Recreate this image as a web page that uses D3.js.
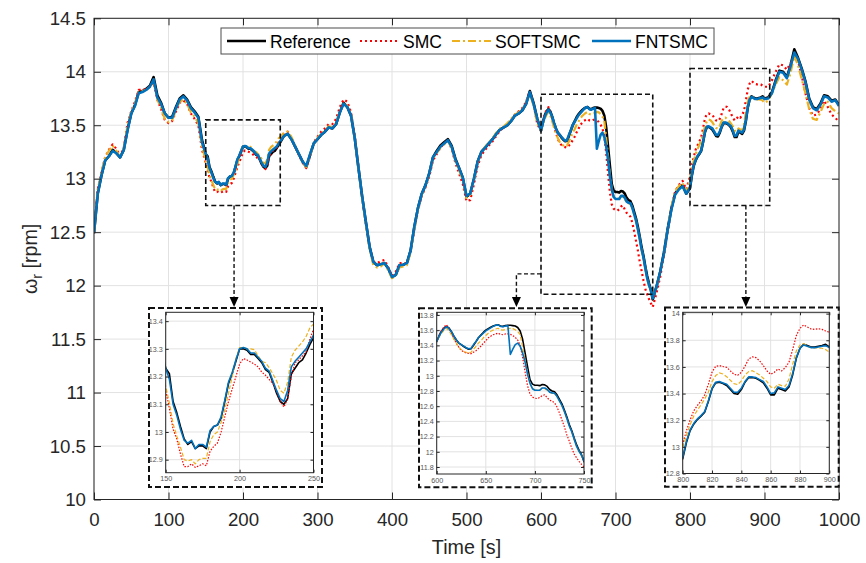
<!DOCTYPE html>
<html>
<head>
<meta charset="utf-8">
<script src="https://cdn.jsdelivr.net/npm/d3@7"></script>
<style>
  body { margin: 0; background: #fff; }
  svg { display: block; }
  text { font-family: "Liberation Sans", Arial, Helvetica, sans-serif; }
</style>
</head>
<body>
<script>
// ---- data ----
// time axis, finer steps inside the three zoomed windows
var time = [
  0,5,10,15,20,25,30,35,40,45,50,55,60,65,70,75,80,85,90,95,100,105,110,115,120,125,130,135,140,145,
  150,152.5,155,157.5,160,162.5,165,167.5,170,172.5,175,177.5,180,182.5,185,187.5,190,192.5,195,197.5,
  200,202.5,205,207.5,210,212.5,215,217.5,220,222.5,225,227.5,230,232.5,235,237.5,240,242.5,245,247.5,
  250,255,260,265,270,275,280,285,290,295,300,305,310,315,320,325,330,335,340,345,
  350,355,360,365,370,375,380,385,390,395,400,405,410,415,420,425,430,435,440,445,
  450,455,460,465,470,475,480,485,490,495,500,505,510,515,520,525,530,535,540,545,
  550,555,560,565,570,575,580,585,590,595,
  600,602.5,605,607.5,610,612.5,615,617.5,620,622.5,625,627.5,630,632.5,635,637.5,640,642.5,645,647.5,
  650,652.5,655,657.5,660,662.5,665,667.5,670,672.5,675,677.5,680,682.5,685,687.5,690,692.5,695,697.5,
  700,702.5,705,707.5,710,712.5,715,717.5,720,722.5,725,727.5,730,732.5,735,737.5,740,742.5,745,747.5,
  750,755,760,765,770,775,780,785,790,795,
  800,802.5,805,807.5,810,812.5,815,817.5,820,822.5,825,827.5,830,832.5,835,837.5,840,842.5,845,847.5,
  850,852.5,855,857.5,860,862.5,865,867.5,870,872.5,875,877.5,880,882.5,885,887.5,890,892.5,895,897.5,
  900,905,910,915,920,925,930,935,940,945,950,955,960,965,970,975,980,985,990,995,1000
];

var reference = [
  12.49,12.86,13.03,13.17,13.21,13.27,13.24,13.20,13.27,13.46,13.61,13.69,13.81,13.82,13.84,13.87,13.95,13.78,13.71,13.61,13.57,13.58,13.67,13.75,13.78,13.74,13.67,13.63,13.58,13.36,
  13.23,13.21,13.11,13.07,13.02,12.975,12.955,12.965,12.94,12.95,12.95,12.94,13.0,13.02,13.025,13.05,13.11,13.175,13.21,13.255,
  13.30,13.30,13.295,13.28,13.28,13.265,13.25,13.225,13.215,13.18,13.14,13.11,13.10,13.12,13.21,13.23,13.25,13.26,13.285,13.315,
  13.34,13.40,13.42,13.37,13.30,13.23,13.16,13.11,13.22,13.33,13.37,13.41,13.44,13.48,13.47,13.51,13.62,13.71,13.67,13.59,
  13.38,13.10,12.83,12.59,12.36,12.22,12.19,12.20,12.21,12.16,12.08,12.10,12.19,12.195,12.21,12.33,12.55,12.73,12.86,12.94,
  13.05,13.20,13.26,13.31,13.34,13.37,13.31,13.19,13.10,13.01,12.83,12.86,13.00,13.16,13.25,13.29,13.33,13.37,13.42,13.46,
  13.48,13.50,13.54,13.59,13.61,13.64,13.70,13.82,13.71,13.56,
  13.45,13.53,13.59,13.63,13.65,13.63,13.58,13.52,13.47,13.43,13.41,13.385,13.365,13.35,13.355,13.40,13.45,13.50,13.535,13.57,
  13.60,13.62,13.64,13.655,13.665,13.67,13.655,13.65,13.66,13.665,13.665,13.66,13.655,13.635,13.59,13.48,13.30,13.12,12.95,12.89,
  12.875,12.875,12.87,12.885,12.88,12.86,12.82,12.80,12.79,12.75,12.69,12.63,12.55,12.46,12.36,12.28,12.18,12.09,12.02,11.96,
  11.87,11.99,12.13,12.31,12.53,12.72,12.86,12.91,12.94,12.86,
  12.91,13.03,13.12,13.17,13.205,13.23,13.26,13.34,13.435,13.48,13.485,13.475,13.46,13.43,13.40,13.395,13.43,13.485,13.52,13.52,
  13.515,13.50,13.48,13.44,13.39,13.39,13.44,13.43,13.42,13.45,13.54,13.665,13.74,13.77,13.76,13.75,13.75,13.755,13.76,13.77,
  13.75,13.76,13.81,13.92,14.01,14.00,13.95,14.06,14.21,14.13,14.03,13.91,13.75,13.67,13.65,13.70,13.78,13.77,13.73,13.74,13.69
];

var smc = [
  12.49,12.9,13.06,13.2,13.27,13.32,13.28,13.21,13.29,13.52,13.63,13.72,13.83,13.83,13.84,13.86,13.90,13.74,13.65,13.55,13.52,13.54,13.63,13.71,13.73,13.70,13.61,13.56,13.50,13.27,
  13.15,13.085,13.01,12.975,12.92,12.875,12.875,12.885,12.872,12.878,12.885,12.878,12.93,12.948,12.96,13.0,13.055,13.11,13.155,13.2,
  13.245,13.265,13.26,13.252,13.245,13.235,13.216,13.205,13.19,13.175,13.148,13.11,13.09,13.12,13.2,13.25,13.26,13.275,13.29,13.335,
  13.37,13.42,13.44,13.38,13.30,13.22,13.15,13.10,13.21,13.34,13.39,13.44,13.47,13.51,13.51,13.56,13.67,13.74,13.72,13.62,
  13.40,13.10,12.82,12.58,12.36,12.22,12.21,12.23,12.24,12.17,12.09,12.13,12.21,12.21,12.21,12.32,12.53,12.71,12.84,12.92,
  13.02,13.17,13.23,13.29,13.33,13.36,13.28,13.15,13.05,12.95,12.79,12.80,12.95,13.12,13.22,13.27,13.31,13.35,13.40,13.45,
  13.48,13.50,13.55,13.60,13.63,13.66,13.72,13.82,13.70,13.51,
  13.45,13.53,13.60,13.645,13.67,13.62,13.56,13.49,13.43,13.375,13.335,13.315,13.30,13.295,13.29,13.31,13.33,13.36,13.39,13.43,
  13.46,13.50,13.52,13.54,13.55,13.56,13.545,13.54,13.55,13.55,13.545,13.53,13.505,13.47,13.40,13.24,13.05,12.87,12.76,12.72,
  12.705,12.70,12.715,12.74,12.75,12.71,12.68,12.665,12.645,12.59,12.51,12.42,12.33,12.225,12.14,12.05,11.97,11.92,11.875,11.835,
  11.80,11.93,12.08,12.28,12.50,12.72,12.88,12.94,12.98,12.90,
  13.02,13.12,13.20,13.27,13.31,13.345,13.39,13.47,13.56,13.605,13.61,13.603,13.597,13.57,13.545,13.537,13.56,13.605,13.66,13.675,
  13.67,13.645,13.61,13.57,13.545,13.56,13.585,13.57,13.595,13.635,13.73,13.835,13.89,13.915,13.90,13.885,13.882,13.887,13.882,13.87,
  13.86,13.86,13.92,14.0,14.07,14.06,14.02,14.08,14.16,14.10,13.96,13.80,13.66,13.59,13.60,13.65,13.73,13.67,13.60,13.57,13.53
];

var softsmc = [
  12.49,12.9,13.06,13.2,13.26,13.31,13.26,13.20,13.28,13.5,13.62,13.70,13.81,13.82,13.83,13.86,13.91,13.74,13.66,13.56,13.53,13.55,13.64,13.72,13.74,13.70,13.62,13.58,13.52,13.30,
  13.165,13.105,13.03,12.985,12.945,12.9,12.895,12.9,12.885,12.9,12.905,12.905,12.965,12.99,13.0,13.035,13.08,13.14,13.2,13.265,
  13.305,13.305,13.30,13.30,13.297,13.275,13.255,13.25,13.232,13.21,13.185,13.15,13.14,13.18,13.27,13.295,13.31,13.325,13.345,13.375,
  13.39,13.43,13.44,13.39,13.31,13.23,13.15,13.11,13.22,13.33,13.38,13.42,13.45,13.49,13.48,13.52,13.63,13.70,13.68,13.60,
  13.38,13.09,12.81,12.57,12.34,12.19,12.17,12.18,12.21,12.14,12.07,12.09,12.17,12.18,12.19,12.31,12.53,12.72,12.85,12.93,
  13.04,13.19,13.24,13.29,13.32,13.35,13.29,13.17,13.08,12.99,12.82,12.85,12.99,13.15,13.25,13.30,13.34,13.38,13.43,13.47,
  13.49,13.52,13.56,13.60,13.62,13.65,13.71,13.80,13.68,13.52,
  13.45,13.51,13.56,13.60,13.625,13.59,13.54,13.48,13.43,13.38,13.345,13.32,13.31,13.30,13.31,13.35,13.385,13.43,13.46,13.50,
  13.53,13.56,13.585,13.60,13.615,13.625,13.605,13.60,13.61,13.615,13.625,13.62,13.605,13.58,13.54,13.38,13.21,13.04,12.90,12.835,
  12.815,12.81,12.815,12.835,12.83,12.81,12.78,12.77,12.765,12.725,12.665,12.605,12.525,12.435,12.335,12.26,12.16,12.065,12.0,11.95,
  11.89,11.98,12.12,12.30,12.53,12.74,12.88,12.93,12.96,12.88,
  12.99,13.085,13.165,13.23,13.275,13.315,13.36,13.41,13.49,13.535,13.555,13.547,13.527,13.50,13.475,13.467,13.495,13.54,13.565,13.572,
  13.557,13.54,13.515,13.49,13.45,13.44,13.47,13.46,13.455,13.51,13.62,13.72,13.765,13.775,13.755,13.745,13.742,13.742,13.74,13.73,
  13.71,13.73,13.80,13.88,13.95,13.92,13.88,13.99,14.15,14.06,13.93,13.80,13.65,13.56,13.55,13.62,13.70,13.72,13.66,13.63,13.61
];

var fntsmc = [
  12.49,12.86,13.03,13.17,13.21,13.26,13.24,13.20,13.27,13.45,13.61,13.68,13.80,13.81,13.83,13.86,13.93,13.76,13.70,13.61,13.57,13.57,13.66,13.74,13.77,13.73,13.66,13.62,13.57,13.34,
  13.23,13.19,13.10,13.06,13.01,12.97,12.96,12.97,12.94,12.955,12.955,12.945,13.005,13.02,13.025,13.055,13.115,13.18,13.215,13.26,
  13.30,13.305,13.30,13.285,13.285,13.27,13.255,13.23,13.22,13.185,13.15,13.12,13.11,13.15,13.235,13.255,13.27,13.285,13.30,13.325,
  13.35,13.40,13.42,13.37,13.30,13.23,13.16,13.12,13.23,13.33,13.37,13.41,13.44,13.48,13.47,13.51,13.62,13.70,13.67,13.59,
  13.38,13.10,12.83,12.59,12.36,12.22,12.19,12.20,12.21,12.16,12.08,12.10,12.19,12.195,12.21,12.33,12.55,12.73,12.86,12.94,
  13.05,13.20,13.25,13.30,13.33,13.36,13.30,13.18,13.10,13.01,12.84,12.86,13.00,13.16,13.25,13.29,13.33,13.37,13.42,13.46,
  13.48,13.50,13.54,13.59,13.61,13.64,13.70,13.81,13.70,13.56,
  13.45,13.52,13.58,13.62,13.645,13.62,13.58,13.52,13.47,13.43,13.41,13.39,13.37,13.355,13.36,13.41,13.45,13.50,13.53,13.56,
  13.59,13.61,13.63,13.65,13.665,13.67,13.65,13.645,13.655,13.66,13.28,13.35,13.41,13.43,13.39,13.30,13.18,13.02,12.90,12.83,
  12.81,12.81,12.81,12.84,12.84,12.82,12.785,12.775,12.77,12.73,12.67,12.61,12.53,12.44,12.34,12.265,12.165,12.07,12.005,11.955,
  11.88,11.99,12.13,12.30,12.52,12.71,12.85,12.90,12.93,12.86,
  12.92,13.04,13.125,13.175,13.21,13.235,13.265,13.345,13.44,13.485,13.49,13.48,13.47,13.44,13.41,13.41,13.44,13.49,13.525,13.525,
  13.52,13.505,13.49,13.45,13.40,13.405,13.45,13.44,13.43,13.46,13.55,13.67,13.74,13.765,13.755,13.745,13.745,13.75,13.755,13.76,
  13.745,13.75,13.80,13.91,14.00,13.99,13.94,14.05,14.18,14.12,14.02,13.90,13.74,13.66,13.64,13.69,13.77,13.76,13.72,13.735,13.68
];

var seriesNames = ["Reference", "SMC", "SOFTSMC", "FNTSMC"];
var xTicks = [0, 100, 200, 300, 400, 500, 600, 700, 800, 900, 1000];
var yTicks = [10, 10.5, 11, 11.5, 12, 12.5, 13, 13.5, 14, 14.5];

// zoomed windows: time range and value range of the dashed boxes
var zoomTime = [[150, 250], [600, 750], [800, 907]];
var zoomValue = [[12.75, 13.55], [11.92, 13.79], [12.75, 14.03]];
// inset axes
var insetTime = [[150, 250], [600, 750], [800, 900]];
var insetValue = [[12.853, 13.432], [11.708, 13.835], [12.8, 14.01]];
var insetXTicks = [[150, 200, 250], [600, 650, 700, 750], [800, 820, 840, 860, 880, 900]];
var insetYTicks = [
  [12.9, 13, 13.1, 13.2, 13.3, 13.4],
  [11.8, 12, 12.2, 12.4, 12.6, 12.8, 13, 13.2, 13.4, 13.6, 13.8],
  [12.8, 13, 13.2, 13.4, 13.6, 13.8, 14]
];

console.log(time.length, reference.length, smc.length, softsmc.length, fntsmc.length);

// ---- layout ----
var w = 866, h = 563;
var fontFamily = '"Liberation Sans", Arial, Helvetica, sans-serif';
var axisColor = "#262626";
var gridColor = "#e2e2e2";

var styles = {
  "Reference": { color: "#000000", width: 2.6, dash: null, iw: 1.6, idash: null },
  "SMC":       { color: "#ff0000", width: 2.2, dash: "2,3", iw: 1.2, idash: "1.5,1.5" },
  "SOFTSMC":   { color: "#edb120", width: 2.2, dash: "8,3,2,3", iw: 1.2, idash: "4,2" },
  "FNTSMC":    { color: "#0072bd", width: 2.6, dash: null, iw: 1.6, idash: null }
};
var seriesValues = [reference, smc, softsmc, fntsmc];
var series = seriesNames.map(function(n, i) { return { name: n, values: seriesValues[i] }; });

var xScale = d3.scaleLinear().domain([0, 1000]).range([94, 839]);
var yScale = d3.scaleLinear().domain([10, 14.5]).range([499.5, 18.3]);

var svg = d3.select("body").append("svg")
  .attr("width", w)
  .attr("height", h);

svg.append("rect").attr("width", w).attr("height", h).attr("fill", "#fff");

svg.append("defs").append("clipPath").attr("id", "clipMain")
  .append("rect")
  .attr("x", xScale(0)).attr("y", yScale(14.5))
  .attr("width", xScale(1000) - xScale(0))
  .attr("height", yScale(10) - yScale(14.5));

// grid
var grid = svg.append("g");
grid.selectAll("line.gx").data(xTicks).enter().append("line")
  .attr("x1", function(d) { return xScale(d); })
  .attr("x2", function(d) { return xScale(d); })
  .attr("y1", yScale(14.5)).attr("y2", yScale(10))
  .attr("stroke", gridColor).attr("stroke-width", 1);
grid.selectAll("line.gy").data(yTicks).enter().append("line")
  .attr("x1", xScale(0)).attr("x2", xScale(1000))
  .attr("y1", function(d) { return yScale(d); })
  .attr("y2", function(d) { return yScale(d); })
  .attr("stroke", gridColor).attr("stroke-width", 1);

// main lines
var mainLine = d3.line()
  .x(function(d, i) { return xScale(time[i]); })
  .y(function(d) { return yScale(d); });

svg.append("g").attr("clip-path", "url(#clipMain)")
  .selectAll("path").data(series).enter().append("path")
  .attr("d", function(d) { return mainLine(d.values); })
  .attr("fill", "none")
  .attr("stroke", function(d) { return styles[d.name].color; })
  .attr("stroke-width", function(d) { return styles[d.name].width; })
  .attr("stroke-dasharray", function(d) { return styles[d.name].dash; })
  .attr("stroke-linejoin", "round");

// axes
function styleAxis(g, size) {
  g.select(".domain").remove();
  g.selectAll(".tick line").attr("stroke", axisColor);
  g.selectAll(".tick text")
    .attr("fill", axisColor)
    .style("font-family", fontFamily)
    .style("font-size", size + "px");
}
var fmt = function(d) { return String(d); };

svg.append("g").attr("transform", "translate(0," + yScale(10) + ")")
  .call(d3.axisBottom(xScale).tickValues(xTicks).tickFormat(fmt).tickSize(-7).tickPadding(13))
  .call(styleAxis, 18.7);
svg.append("g").attr("transform", "translate(0," + yScale(14.5) + ")")
  .call(d3.axisTop(xScale).tickValues(xTicks).tickFormat("").tickSize(-7))
  .call(styleAxis, 18.7);
svg.append("g").attr("transform", "translate(" + xScale(0) + ",0)")
  .call(d3.axisLeft(yScale).tickValues(yTicks).tickFormat(fmt).tickSize(-7).tickPadding(8))
  .call(styleAxis, 18.7);
svg.append("g").attr("transform", "translate(" + xScale(1000) + ",0)")
  .call(d3.axisRight(yScale).tickValues(yTicks).tickFormat("").tickSize(-7))
  .call(styleAxis, 18.7);

svg.append("rect")
  .attr("x", xScale(0)).attr("y", yScale(14.5))
  .attr("width", xScale(1000) - xScale(0))
  .attr("height", yScale(10) - yScale(14.5))
  .attr("fill", "none").attr("stroke", axisColor).attr("stroke-width", 1);

// axis labels
svg.append("text")
  .attr("x", (xScale(0) + xScale(1000)) / 2).attr("y", 554)
  .attr("text-anchor", "middle")
  .style("font-size", "19.7px").attr("fill", axisColor)
  .text("Time [s]");

var yl = svg.append("text")
  .attr("transform", "translate(37," + ((yScale(10) + yScale(14.5)) / 2) + ") rotate(-90)")
  .attr("text-anchor", "middle")
  .style("font-size", "19.7px").attr("fill", axisColor);
yl.append("tspan").text("\u03c9");
yl.append("tspan").attr("dy", 5).style("font-size", "14px").text("r");
yl.append("tspan").attr("dy", -5).text(" [rpm]");

// dashed zoom boxes
svg.append("g").selectAll("rect").data(zoomTime).enter().append("rect")
  .attr("x", function(d) { return xScale(d[0]); })
  .attr("width", function(d) { return xScale(d[1]) - xScale(d[0]); })
  .attr("y", function(d, i) { return yScale(zoomValue[i][1]); })
  .attr("height", function(d, i) { return yScale(zoomValue[i][0]) - yScale(zoomValue[i][1]); })
  .attr("fill", "none").attr("stroke", "#111").attr("stroke-width", 1.6)
  .attr("stroke-dasharray", "5,3");

// insets
var panels = [
  { outer: [149, 308, 322, 487], inner: [165.7, 312.3, 313.5, 472.7] },
  { outer: [419, 308.3, 591.7, 487.3], inner: [436.7, 312.3, 584, 474] },
  { outer: [665, 307.5, 838.7, 486.7], inner: [682.7, 312.3, 829.3, 473.5] }
];

// arrows (dashed leader + filled head touching the inset frame)
var arrowHeadY = 307;
var arrows = [
  [[xScale(188), yScale(zoomValue[0][0])], [xScale(188), arrowHeadY]],
  [[xScale(zoomTime[1][0]), yScale(12.11)], [xScale(567), yScale(12.11)], [xScale(567), arrowHeadY]],
  [[xScale(875), yScale(zoomValue[2][0])], [xScale(875), arrowHeadY]]
];
var ag = svg.append("g");
arrows.forEach(function(pts) {
  var tip = pts[pts.length - 1];
  var p = pts.slice();
  p[p.length - 1] = [tip[0], tip[1] - 9];
  ag.append("path")
    .attr("d", d3.line()(p))
    .attr("fill", "none").attr("stroke", "#111").attr("stroke-width", 1.4)
    .attr("stroke-dasharray", "4,2.5");
  ag.append("path")
    .attr("d", "M" + (tip[0] - 4.5) + "," + (tip[1] - 10) + "L" + (tip[0] + 4.5) + "," + (tip[1] - 10) + "L" + tip[0] + "," + tip[1] + "Z")
    .attr("fill", "#000");
});

panels.forEach(function(p, k) {
  var g = svg.append("g");
  g.append("rect")
    .attr("x", p.outer[0]).attr("y", p.outer[1])
    .attr("width", p.outer[2] - p.outer[0]).attr("height", p.outer[3] - p.outer[1])
    .attr("fill", "#fff").attr("stroke", "#111").attr("stroke-width", 2)
    .attr("stroke-dasharray", "6,3");

  var xs = d3.scaleLinear().domain(insetTime[k]).range([p.inner[0], p.inner[2]]);
  var ys = d3.scaleLinear().domain(insetValue[k]).range([p.inner[3], p.inner[1]]);

  g.selectAll("line.gx").data(insetXTicks[k]).enter().append("line")
    .attr("x1", function(d) { return xs(d); }).attr("x2", function(d) { return xs(d); })
    .attr("y1", p.inner[1]).attr("y2", p.inner[3])
    .attr("stroke", gridColor).attr("stroke-width", 1);
  g.selectAll("line.gy").data(insetYTicks[k]).enter().append("line")
    .attr("x1", p.inner[0]).attr("x2", p.inner[2])
    .attr("y1", function(d) { return ys(d); }).attr("y2", function(d) { return ys(d); })
    .attr("stroke", gridColor).attr("stroke-width", 1);

  var cid = "clipInset" + k;
  svg.select("defs").append("clipPath").attr("id", cid)
    .append("rect")
    .attr("x", p.inner[0]).attr("y", p.inner[1])
    .attr("width", p.inner[2] - p.inner[0]).attr("height", p.inner[3] - p.inner[1]);

  var line = d3.line()
    .defined(function(d, i) { return time[i] >= insetTime[k][0] - 10 && time[i] <= insetTime[k][1] + 10; })
    .x(function(d, i) { return xs(time[i]); })
    .y(function(d) { return ys(d); });

  g.append("g").attr("clip-path", "url(#" + cid + ")")
    .selectAll("path").data(series).enter().append("path")
    .attr("d", function(d) { return line(d.values); })
    .attr("fill", "none")
    .attr("stroke", function(d) { return styles[d.name].color; })
    .attr("stroke-width", function(d) { return styles[d.name].iw; })
    .attr("stroke-dasharray", function(d) { return styles[d.name].idash; })
    .attr("stroke-linejoin", "round");

  var small = function(sel) {
    sel.select(".domain").remove();
    sel.selectAll(".tick line").attr("stroke", axisColor);
    sel.selectAll(".tick text").attr("fill", "#555")
      .style("font-family", fontFamily).style("font-size", "7.2px");
  };
  g.append("g").attr("transform", "translate(0," + p.inner[3] + ")")
    .call(d3.axisBottom(xs).tickValues(insetXTicks[k]).tickFormat(fmt).tickSize(-3).tickPadding(3.5))
    .call(small);
  g.append("g").attr("transform", "translate(0," + p.inner[1] + ")")
    .call(d3.axisTop(xs).tickValues(insetXTicks[k]).tickFormat("").tickSize(-3))
    .call(small);
  g.append("g").attr("transform", "translate(" + p.inner[0] + ",0)")
    .call(d3.axisLeft(ys).tickValues(insetYTicks[k]).tickFormat(fmt).tickSize(-3).tickPadding(3))
    .call(small);
  g.append("g").attr("transform", "translate(" + p.inner[2] + ",0)")
    .call(d3.axisRight(ys).tickValues(insetYTicks[k]).tickFormat("").tickSize(-3))
    .call(small);

  g.append("rect")
    .attr("x", p.inner[0]).attr("y", p.inner[1])
    .attr("width", p.inner[2] - p.inner[0]).attr("height", p.inner[3] - p.inner[1])
    .attr("fill", "none").attr("stroke", axisColor).attr("stroke-width", 1);
});

// legend
var legend = svg.append("g");
legend.append("rect")
  .attr("x", 221).attr("y", 28).attr("width", 493).attr("height", 26)
  .attr("fill", "#fff").attr("stroke", "#4d4d4d").attr("stroke-width", 1);
var legendX = [227, 360, 452, 592];
series.forEach(function(s, i) {
  var st = styles[s.name];
  legend.append("line")
    .attr("x1", legendX[i]).attr("x2", legendX[i] + 39)
    .attr("y1", 41).attr("y2", 41)
    .attr("stroke", st.color).attr("stroke-width", st.width)
    .attr("stroke-dasharray", st.dash);
  legend.append("text")
    .attr("x", legendX[i] + 43).attr("y", 47.5)
    .style("font-size", "17.5px").attr("fill", "#000")
    .text(s.name);
});
</script>
</body>
</html>
